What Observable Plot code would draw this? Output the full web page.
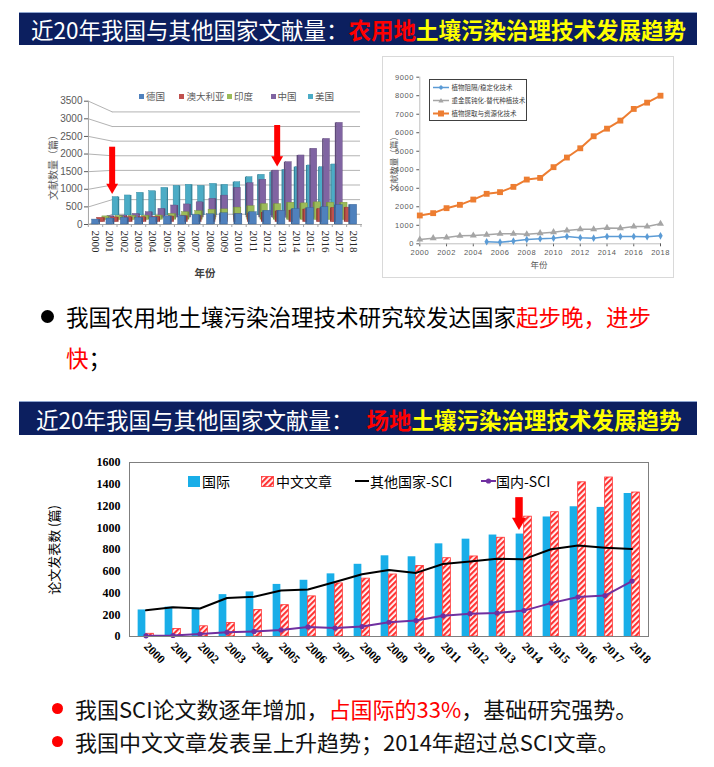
<!DOCTYPE html>
<html lang="zh">
<head>
<meta charset="utf-8">
<script src="https://cdn.jsdelivr.net/npm/d3@7"></script>
<script src="https://cdn.jsdelivr.net/npm/@observablehq/plot@0.6"></script>
<style>
html,body{margin:0;padding:0}
body{width:714px;height:767px;position:relative;overflow:hidden;background:#fff;font-family:"Noto Sans CJK SC","Noto Sans",sans-serif}
.t{position:absolute;white-space:nowrap;line-height:1}
.c{transform:translate(-50%,-50%)}
.l{transform:translateY(-50%)}
.v{transform:translate(-50%,-50%) rotate(-90deg)}
.hdr{position:absolute;left:19px;width:678px;background:#0c1f5f;border-top:1px solid #8ea5cf;color:#fff;font-size:22.5px;white-space:nowrap;display:flex;align-items:center}
.hdr .r{color:#ff0000;font-weight:bold}
.hdr .y{color:#ffff00;font-weight:bold}
.bul{position:absolute;border-radius:50%}
.sq{position:absolute}
</style>
</head>
<body>
<svg width="0" height="0" style="position:absolute"><defs>
<pattern id="hatch" width="4" height="4" patternUnits="userSpaceOnUse" patternTransform="rotate(45)"><rect width="4" height="4" fill="#fff"/><rect width="2.2" height="4" fill="#ff3333"/></pattern>
</defs></svg>

<!-- header 1 -->
<div class="hdr" style="top:12px;height:32px"><span style="margin-left:12px">近20年我国与其他国家文献量：</span><span class="r">农用地</span><span class="y">土壤污染治理技术发展趋势</span></div>

<!-- top-left legend & labels -->
<div class="sq" style="left:139px;top:94px;width:5px;height:5px;background:#4f81bd"></div>
<div class="t l" style="left:146px;top:96.7px;font-size:9.5px;color:#595959">德国</div>
<div class="sq" style="left:179px;top:94px;width:5px;height:5px;background:#c0504d"></div>
<div class="t l" style="left:186.5px;top:96.7px;font-size:9.5px;color:#595959">澳大利亚</div>
<div class="sq" style="left:227px;top:94px;width:5px;height:5px;background:#9bbb59"></div>
<div class="t l" style="left:234px;top:96.7px;font-size:9.5px;color:#595959">印度</div>
<div class="sq" style="left:271px;top:94px;width:5px;height:5px;background:#8064a2"></div>
<div class="t l" style="left:277.5px;top:96.7px;font-size:9.5px;color:#595959">中国</div>
<div class="sq" style="left:308px;top:94px;width:5px;height:5px;background:#4bacc6"></div>
<div class="t l" style="left:315px;top:96.7px;font-size:9.5px;color:#595959">美国</div>
<div class="t v" style="left:53px;top:165px;font-size:10px;color:#595959">文献数量（篇）</div>
<div class="t c" style="left:205px;top:272.7px;font-size:10.5px;font-weight:bold;color:#404040">年份</div>

<!-- top-right box & labels -->
<div style="position:absolute;left:382px;top:56px;width:292px;height:222px;border:1px solid #d9d9d9;box-sizing:border-box"></div>
<div style="position:absolute;left:429px;top:79px;width:98px;height:42px;border:1px solid #404040;box-sizing:border-box;background:#fff"></div>
<svg class="t" style="left:433px;top:83.5px" width="16" height="7"><line x1="0" y1="3.5" x2="16" y2="3.5" stroke="#5b9bd5" stroke-width="1.5"/><path d="M8,1 L10.5,3.5 L8,6 L5.5,3.5Z" fill="#5b9bd5"/></svg>
<div class="t l" style="left:451.5px;top:87px;font-size:6.5px;color:#404040">植物阻隔/稳定化技术</div>
<svg class="t" style="left:433px;top:96.5px" width="16" height="7"><line x1="0" y1="3.5" x2="16" y2="3.5" stroke="#a5a5a5" stroke-width="1.5"/><path d="M8,1 L10.6,5.5 L5.4,5.5Z" fill="#a5a5a5"/></svg>
<div class="t l" style="left:451.5px;top:100px;font-size:6.5px;color:#404040">重金属钝化-替代种植技术</div>
<svg class="t" style="left:433px;top:109.5px" width="16" height="7"><line x1="0" y1="3.5" x2="16" y2="3.5" stroke="#ed7d31" stroke-width="2"/><rect x="5" y="0.5" width="6" height="6" fill="#ed7d31"/></svg>
<div class="t l" style="left:451.5px;top:113px;font-size:6.5px;color:#404040">植物提取与资源化技术</div>
<div class="t v" style="left:392.7px;top:161.7px;font-size:8.5px;color:#595959">文献数量（篇）</div>
<div class="t c" style="left:539px;top:264px;font-size:8.5px;color:#595959">年份</div>

<!-- top bullet text -->
<div class="bul" style="left:40.5px;top:309.5px;width:13px;height:13px;background:#000"></div>
<div class="t l" style="left:66px;top:316px;font-size:22.5px;color:#000">我国农用地土壤污染治理技术研究较发达国家<span style="color:#ff0000">起步晚，进步</span></div>
<div class="t l" style="left:66px;top:357px;font-size:22.5px;color:#000"><span style="color:#ff0000">快</span>；</div>

<!-- header 2 -->
<div class="hdr" style="top:401px;height:33px"><span style="margin-left:17px">近20年我国与其他国家文献量：</span><span class="r" style="margin-left:13px">场地</span><span class="y">土壤污染治理技术发展趋势</span></div>

<!-- bottom legend & label -->
<div class="sq" style="left:188px;top:475.5px;width:12px;height:11px;background:#19aee8"></div>
<div class="t l" style="left:202px;top:481px;font-size:14px;color:#000">国际</div>
<svg class="t" style="left:261px;top:475.5px" width="13" height="11"><rect x="0.5" y="0.5" width="12" height="10" fill="url(#hatch)" stroke="#ff3333" stroke-width="0.8"/></svg>
<div class="t l" style="left:276px;top:481px;font-size:14px;color:#000">中文文章</div>
<div class="sq" style="left:355px;top:479.8px;width:14px;height:2.5px;background:#000"></div>
<div class="t l" style="left:370px;top:481px;font-size:14px;color:#000">其他国家-SCI</div>
<svg class="t" style="left:481px;top:476px" width="15" height="10"><line x1="0" y1="5" x2="15" y2="5" stroke="#7030a0" stroke-width="2"/><circle cx="7.5" cy="5" r="2.6" fill="#7030a0"/></svg>
<div class="t l" style="left:496px;top:481px;font-size:14px;color:#000">国内-SCI</div>
<div class="t v" style="left:53px;top:550px;font-size:13px;color:#000">论文发表数 (篇)</div>

<!-- bottom bullets -->
<div class="bul" style="left:51.5px;top:702.5px;width:11px;height:11px;background:#ff0000"></div>
<div class="t l" style="left:75px;top:708px;font-size:22px;color:#111">我国SCI论文数逐年增加，<span style="color:#ff0000">占国际的33%</span>，基础研究强势。</div>
<div class="bul" style="left:51.5px;top:735.5px;width:11px;height:11px;background:#ff0000"></div>
<div class="t l" style="left:75px;top:741px;font-size:22px;color:#111">我国中文文章发表呈上升趋势；2014年超过总SCI文章。</div>

<script>
// ================= data: top-left (3D bar chart, 5 countries) =================
const yearsA = [2000,2001,2002,2003,2004,2005,2006,2007,2008,2009,2010,2011,2012,2013,2014,2015,2016,2017,2018];
const germany   = [140,170,190,190,200,230,240,270,290,320,300,350,390,390,440,470,490,550,560];
const australia = [131,141,152,152,162,172,183,193,204,214,235,255,287,328,349,380,391,422,432];
const india     = [110,121,131,131,137,186,240,272,315,326,380,423,488,488,531,510,542,531,531];
const china     = [50,70,121,177,284,391,425,493,605,707,955,1101,1214,1507,1777,1991,2206,2521,3034];
const usa       = [613,668,758,812,923,990,1024,990,1057,1024,1111,1279,1358,1440,1524,1613,1670,1613,1703];
const gridA = [0,500,1000,1500,2000,2500,3000,3500];
const arrowsA = [{x:2001.16, from:2194, to:871}, {x:2012.66, from:2810, to:1646}];

// ================= data: top-right (line chart, 3 technologies) =================
const yearsC = [2000,2001,2002,2003,2004,2005,2006,2007,2008,2009,2010,2011,2012,2013,2014,2015,2016,2017,2018];
const barrierTech = [null,null,null,null,null,110,90,145,235,270,305,395,325,305,395,395,395,380,430];
const passivTech  = [230,305,340,430,450,485,540,540,520,575,630,720,790,790,860,845,935,935,1080];
const extractTech = [1530,1655,1925,2105,2390,2700,2790,3075,3470,3560,4140,4660,5160,5810,6220,6655,7285,7625,8000];
const ticksCx = [2000,2002,2004,2006,2008,2010,2012,2014,2016,2018];
const ticksCy = [0,1000,2000,3000,4000,5000,6000,7000,8000,9000];

// ================= data: bottom (bars + lines) =================
const yearsB = [2000,2001,2002,2003,2004,2005,2006,2007,2008,2009,2010,2011,2012,2013,2014,2015,2016,2017,2018];
const intl        = [244,270,260,385,410,479,517,576,664,742,733,852,895,933,942,1099,1193,1187,1315];
const chinese     = [25,69,94,125,244,288,369,488,532,570,648,720,736,908,1102,1143,1418,1462,1324];
const otherSci    = [241,269,257,354,366,423,432,501,573,611,585,667,689,714,711,802,836,817,805];
const domesticSci = [6,9,22,38,47,60,88,78,91,131,147,191,210,216,238,307,363,376,510];
const ticksB = [0,200,400,600,800,1000,1200,1400,1600];
const arrowB = [{year:2014, from:1277, to:980}];

const plain = d => String(d);

function place(svg, left, top){
  svg.style.position = "absolute";
  svg.style.left = left + "px";
  svg.style.top = top + "px";
  document.body.appendChild(svg);
}

// ---------- top-left: pseudo 3D via perspective-scaled layers ----------
const VX = 228.3, VY = 163.7, FX = [95, 353.3], FY = [224, 100.7];
const persp = s => ({x:[VX+(FX[0]-VX)*s, VX+(FX[1]-VX)*s], y:[VY+(FY[0]-VY)*s, VY+(FY[1]-VY)*s]});
function layer(s, marks){
  const p = persp(s);
  return Plot.plot({
    width:714, height:290, marginTop:0, marginRight:0, marginBottom:0, marginLeft:0,
    style:{background:"transparent", overflow:"visible"},
    x:{type:"linear", domain:[2000,2018], range:p.x, axis:null},
    y:{type:"linear", domain:[0,3500], range:p.y, axis:null},
    marks
  });
}
function barMarks(vals, fill, side){
  const rows = yearsA.map((year,i)=>({year, v: vals[i]}));
  return [
    Plot.rect(rows, {x1:d=>d.year + (d.year<2009 ? 0.235 : -0.345), x2:d=>d.year + (d.year<2009 ? 0.345 : -0.235), y1:0, y2:"v", fill:side}),
    Plot.rect(rows, {x1:d=>d.year-0.235, x2:d=>d.year+0.235, y1:0, y2:"v", fill, stroke:side, strokeWidth:0.4})
  ];
}
// back wall grid
place(layer(0.83, [
  Plot.ruleY(gridA, {y:d=>d, x1:1999.51, x2:2020.35, stroke:"#b3b3b3"}),
  Plot.link(gridA, {x1:1997.51, y1:d=>1.2048*d-350.5, x2:1999.51, y2:d=>d, stroke:"#b3b3b3"})
]), 0, 0);
place(layer(0.85,   barMarks(usa, "#4bacc6", "#31849b")), 0, 0);
place(layer(0.8875, barMarks(china, "#8064a2", "#5f497a")), 0, 0);
place(layer(0.925,  barMarks(india, "#9bbb59", "#76923c")), 0, 0);
place(layer(0.9625, barMarks(australia, "#c0504d", "#943634")), 0, 0);
// front layer with x axis, German bars, arrows
place(Plot.plot({
  width:714, height:290, marginTop:0, marginRight:0, marginBottom:66, marginLeft:88,
  style:{background:"transparent", overflow:"visible", fontFamily:"'Liberation Serif',serif", fontSize:"11px", color:"#262626"},
  x:{type:"linear", domain:[2000,2018], range:FX, ticks:yearsA, tickFormat:plain, tickRotate:90, tickSize:0, tickPadding:6, label:null},
  y:{type:"linear", domain:[0,3500], range:FY, axis:null},
  marks:[
    Plot.ruleY([0], {x1:1999.51, x2:2018.6, stroke:"#a6a6a6"}),
    Plot.ruleX(yearsA.concat([2019]), {x:d=>d-0.5, y1:0, y2:-85, stroke:"#a6a6a6"}),
    Plot.ruleX([1999.51], {y1:0, y2:3500, stroke:"#a6a6a6"}),
    ...barMarks(germany, "#4f81bd", "#365f91"),
    Plot.ruleX(arrowsA, {x:"x", y1:"from", y2:"to", stroke:"#ff0000", strokeWidth:6, insetBottom:6}),
    Plot.dot(arrowsA, {x:"x", y:"to", dy:-6.75, symbol:"triangle", rotate:180, r:4.4, fill:"#ff0000"})
  ]
}), 0, 0);
// y-axis layer
place(Plot.plot({
  width:714, height:290, marginTop:0, marginRight:0, marginBottom:66, marginLeft:88,
  style:{background:"transparent", overflow:"visible", fontFamily:"'Liberation Sans Narrow','Liberation Sans',sans-serif", fontSize:"10px", color:"#595959"},
  x:{type:"linear", domain:[2000,2018], range:FX, axis:null},
  y:{type:"linear", domain:[0,3500], range:FY, ticks:gridA, tickFormat:plain, tickSize:4, tickPadding:2, label:null},
  marks:[]
}), 0, 0);

// ---------- top-right line chart ----------
const rowsC = yearsC.map((year,i)=>({year, a:barrierTech[i], b:passivTech[i], c:extractTech[i]}));
place(Plot.plot({
  width:292, height:222, marginLeft:37.3, marginRight:14, marginTop:20.7, marginBottom:34.7,
  style:{background:"transparent", overflow:"visible", fontFamily:"'Liberation Sans',sans-serif", fontSize:"7.5px", letterSpacing:"0.5px", color:"#595959"},
  x:{domain:[2000,2018], ticks:ticksCx, tickFormat:plain, tickSize:3, tickPadding:3, label:null},
  y:{domain:[0,9000], ticks:ticksCy, tickFormat:plain, tickSize:3, tickPadding:3, label:null},
  marks:[
    Plot.ruleY([0], {stroke:"#bfbfbf"}),
    Plot.ruleX([2000], {stroke:"#bfbfbf"}),
    Plot.line(rowsC, {x:"year", y:"b", stroke:"#a5a5a5", strokeWidth:1.5}),
    Plot.dot(rowsC, {x:"year", y:"b", symbol:"triangle", fill:"#a5a5a5", r:2.6}),
    Plot.line(rowsC, {x:"year", y:"a", stroke:"#5b9bd5", strokeWidth:1.5}),
    Plot.dot(rowsC, {x:"year", y:"a", symbol:"diamond", fill:"#5b9bd5", r:2.3}),
    Plot.line(rowsC, {x:"year", y:"c", stroke:"#ed7d31", strokeWidth:2}),
    Plot.dot(rowsC, {x:"year", y:"c", symbol:"square", fill:"#ed7d31", r:3.3})
  ]
}), 382, 56);

// ---------- bottom chart ----------
const rowsB = yearsB.map((year,i)=>({year, intl:intl[i], cn:chinese[i], other:otherSci[i], dom:domesticSci[i]}));
place(Plot.plot({
  width:714, height:240, marginTop:22, marginBottom:44, marginLeft:129, marginRight:66,
  style:{background:"transparent", overflow:"visible", fontFamily:"'Liberation Serif',serif", fontWeight:"bold", fontSize:"12px", color:"#000"},
  x:{type:"band", domain:yearsB, padding:0, tickSize:0, tickPadding:8, tickRotate:45, tickFormat:plain, label:null},
  y:{domain:[0,1600], ticks:ticksB, tickFormat:plain, tickSize:0, tickPadding:9, label:null},
  marks:[
    Plot.barY(rowsB, {x:"year", y:"intl", fill:"#19aee8", insetLeft:9.65, insetRight:9.65, dx:-4}),
    Plot.barY(rowsB, {x:"year", y:"cn", fill:"url(#hatch)", stroke:"#ff3333", strokeWidth:0.8, insetLeft:9.65, insetRight:9.65, dx:4}),
    Plot.line(rowsB, {x:"year", y:"other", stroke:"#000", strokeWidth:2}),
    Plot.line(rowsB, {x:"year", y:"dom", stroke:"#7030a0", strokeWidth:2}),
    Plot.dot(rowsB, {x:"year", y:"dom", fill:"#7030a0", r:2.6}),
    Plot.ruleX(arrowB, {x:"year", y1:"from", y2:"to", dx:-5, stroke:"#ff0000", strokeWidth:7.5, insetBottom:8}),
    Plot.dot(arrowB, {x:"year", y:"to", dx:-5, dy:-8.1, symbol:"triangle", rotate:180, r:5.2, fill:"#ff0000"}),
    Plot.frame({stroke:"#7f7f7f"})
  ]
}), 0, 440);
</script>
</body>
</html>
